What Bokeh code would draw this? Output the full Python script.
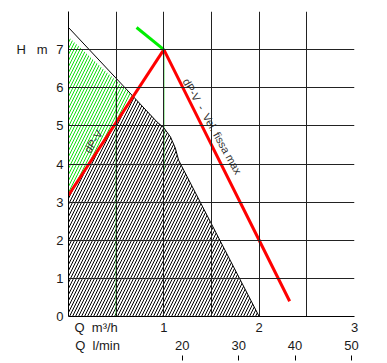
from bokeh.plotting import figure
from bokeh.models import Range1d, LinearAxis, FixedTicker
from bokeh.core.properties import value
from bokeh.embed import file_html
from bokeh.resources import INLINE

NB = "\u00a0"

# ---- data ----
y_ticks = [0, 1, 2, 3, 4, 5, 6, 7]
x_ticks = [1, 2, 3]
lmin_ticks = [20, 30, 40, 50]
x_grid = [0, 0.5, 1, 1.5, 2, 2.5, 3]
y_grid = [1, 2, 3, 4, 5, 6, 7]

# axis titles (placed as tick labels of the axes)
h_title = "H" + NB * 3 + "m"
q_title = "Q" + NB * 2 + "m³/h"
l_title = "Q" + NB * 2 + "l/min"

# limit curve of the pump (black outline)
limit_q = [0.0, 0.93, 1.00, 1.07, 1.12, 1.155, 2.0]
limit_h = [7.58, 5.10, 4.95, 4.71, 4.42, 4.10, 0.0]

# black hatched field (below dP-V line and limit curve)
black_q = [0.0, 0.0, 0.68, 0.93, 1.00, 1.07, 1.12, 1.155, 2.0]
black_h = [0.0, 3.18, 5.77, 5.10, 4.95, 4.71, 4.42, 4.10, 0.0]

# green hatched field (above dP-V line)
green_q = [0.0, 0.0, 0.68]
green_h = [3.18, 7.33, 5.77]

# dP-V line (red) rising and falling branch
dpv_q = [0.0, 1.0]
dpv_h = [3.18, 7.0]
max_q = [1.0, 2.32]
max_h = [7.0, 0.4]

# green setting line
set_q = [0.714, 1.0]
set_h = [7.58, 7.0]

# green vertical markers
mark_q = [0.5, 1.0]
mark_h0 = [0.0, 3.8]
mark_h1 = [5.9, 7.0]

FONT = "Liberation Sans"
TXT = "#1a1a1a"

p = figure(frame_width=286, frame_height=305,
           x_range=Range1d(0, 3), y_range=Range1d(0, 8),
           min_border_left=68, min_border_right=14,
           min_border_top=11, min_border_bottom=0,
           toolbar_location=None, output_backend="svg")
p.outline_line_color = None
p.background_fill_color = "white"

# grids
p.xgrid.ticker = FixedTicker(ticks=x_grid)
p.ygrid.ticker = FixedTicker(ticks=y_grid)
for g in (p.xgrid, p.ygrid):
    g.grid_line_color = "#222222"
    g.grid_line_width = 1
    g.grid_line_alpha = 1.0
    g.level = "glyph"


def style(ax, standoff):
    ax.major_tick_in = 0
    ax.major_tick_out = 0
    ax.minor_tick_in = 0
    ax.minor_tick_out = 0
    ax.major_label_text_font = FONT
    ax.major_label_text_font_size = "13px"
    ax.major_label_text_color = TXT
    ax.major_label_standoff = standoff


# primary axes
yax = p.yaxis[0]
yax.ticker = FixedTicker(ticks=y_ticks)
style(yax, 5)
yax.axis_line_color = "black"

xax = p.xaxis[0]
x_title_pos = 0.29
xax.ticker = FixedTicker(ticks=[x_title_pos] + x_ticks)
xax.major_label_overrides = {x_title_pos: q_title}
style(xax, 3)
xax.axis_line_color = "black"

# second left axis carrying the "H m" title
hax = LinearAxis(ticker=FixedTicker(ticks=[7]),
                 major_label_overrides={7: h_title})
style(hax, 6)
hax.axis_line_color = None
p.add_layout(hax, "left")

# l/min axis
p.extra_x_ranges = {"lmin": Range1d(-0.15, 50.53)}
l_title_pos = 5
lax = LinearAxis(x_range_name="lmin",
                 ticker=FixedTicker(ticks=[l_title_pos] + lmin_ticks),
                 major_label_overrides={l_title_pos: l_title})
style(lax, 0)
lax.axis_line_color = None
p.add_layout(lax, "below")

# small tick marks under the l/min labels
tax = LinearAxis(x_range_name="lmin", ticker=FixedTicker(ticks=lmin_ticks),
                 major_label_overrides={t: " " for t in lmin_ticks})
tax.axis_line_color = None
tax.major_tick_in = 0
tax.major_tick_out = 5
tax.major_tick_line_color = "black"
tax.major_tick_line_width = 1
tax.minor_tick_in = 0
tax.minor_tick_out = 0
tax.major_label_text_font_size = "2px"
tax.major_label_standoff = 0
p.add_layout(tax, "below")

# fields
p.patch(black_q, black_h, fill_alpha=0, line_color=None,
        hatch_pattern="/", hatch_color="black", hatch_scale=6, hatch_weight=1)
p.patch(green_q, green_h, fill_alpha=0, line_color=None,
        hatch_pattern="/", hatch_color="#11dd11", hatch_scale=6, hatch_weight=1)

p.segment(x0=mark_q, y0=mark_h0, x1=mark_q, y1=mark_h1,
          line_color="#00cc00", line_width=1)

p.line(limit_q, limit_h, line_color="black", line_width=1)

p.line(dpv_q, dpv_h, line_color="#ff0000", line_width=3)
p.line(max_q, max_h, line_color="#ff0000", line_width=3)
p.line(set_q, set_h, line_color="#00ee00", line_width=3)

p.text(x=[0.26], y=[4.59], text=["dP-V"], angle=0.99,
       text_font=value(FONT), text_font_size="11px", text_color="#333333",
       text_align="center", text_baseline="middle")
p.text(x=[1.51], y=[4.99], text=["dP-V" + NB * 2 + "-" + NB * 2 + "Vel. fissa max"],
       angle=-1.055,
       text_font=value(FONT), text_font_size="11px", text_color="#333333",
       text_align="center", text_baseline="middle")

open("out.html", "w").write(file_html(p, INLINE))
